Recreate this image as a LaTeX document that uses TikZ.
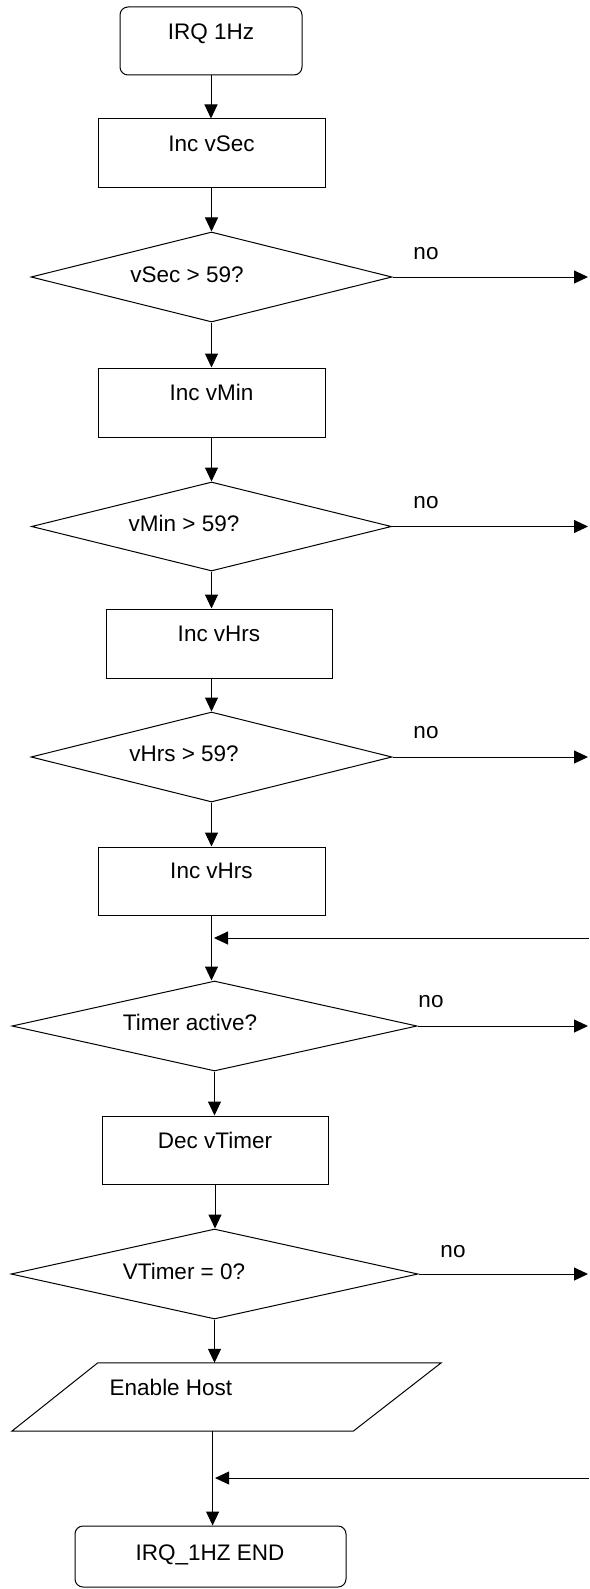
\documentclass[tikz,border=0pt]{standalone}
\usepackage{fontspec}
\setmainfont{Liberation Sans}
\usetikzlibrary{shapes.geometric,arrows.meta,calc}
\begin{document}
\begin{tikzpicture}[x=1pt,y=1pt,
  shapebox/.style={draw=black, line width=1pt, inner sep=0pt},
  rbox/.style={shapebox, rounded corners=8pt},
  decbox/.style={shapebox, diamond},
  txt/.style={anchor=base, inner sep=0pt, font=\fontsize{22.5}{27}\selectfont},
  flow/.style={line width=1pt, -{Triangle[length=14pt,width=13pt]}},
  backflow/.style={flow, shorten >=-2.5pt},
  plain/.style={line width=1pt}]
\useasboundingbox (0,0) rectangle (589,-1589);
% shapes
\node[rbox, minimum width=182pt, minimum height=68pt] (irq) at (211,-41) {};
\node[shapebox, minimum width=227pt, minimum height=69pt] (incsec) at (211.5,-153.5) {};
\node[decbox, minimum width=361pt, minimum height=90pt] (d1) at (211.5,-277) {};
\node[shapebox, minimum width=227pt, minimum height=69pt] (incmin) at (211.5,-402.5) {};
\node[decbox, minimum width=360pt, minimum height=89pt] (d2) at (211.5,-526.5) {};
\node[shapebox, minimum width=226pt, minimum height=69pt] (inchrs) at (219,-643.5) {};
\node[decbox, minimum width=361pt, minimum height=90pt] (d3) at (211.5,-757) {};
\node[shapebox, minimum width=227pt, minimum height=68pt] (inchrsb) at (211.5,-881) {};
\node[decbox, minimum width=405pt, minimum height=90pt] (d4) at (214.5,-1026) {};
\node[shapebox, minimum width=226pt, minimum height=68pt] (dectimer) at (215,-1150) {};
\node[decbox, minimum width=407pt, minimum height=90pt] (d5) at (214.5,-1274) {};
\node[inner sep=0pt, minimum width=429pt, minimum height=68pt] (eh) at (226.5,-1397) {};
\draw[plain] (eh.south west) -- ($(eh.south east)+(-88,0)$) -- (eh.north east) -- ($(eh.north west)+(86,0)$) -- cycle;
\node[rbox, minimum width=271pt, minimum height=61pt] (endb) at (210.5,-1556.5) {};
% texts
\node[txt] (tirq) at (211,-40) {IRQ 1Hz};
\node[txt] (tincsec) at (211.5,-152) {Inc vSec};
\node[txt] (td1) at (187,-282) {vSec > 59?};
\node[txt] (tincmin) at (211.5,-400.7) {Inc vMin};
\node[txt] (td2) at (184,-531) {vMin > 59?};
\node[txt] (tinchrs) at (219,-641) {Inc vHrs};
\node[txt] (td3) at (184,-761) {vHrs > 59?};
\node[txt] (tinchrsb) at (211.5,-878.7) {Inc vHrs};
\node[txt] (td4) at (190,-1030) {Timer active?};
\node[txt] (tdec) at (215,-1148) {Dec vTimer};
\node[txt] (td5) at (184,-1279) {VTimer = 0?};
\node[txt] (teh) at (171,-1395) {Enable Host};
\node[txt] (tend) at (210,-1560) {IRQ\_1HZ END};
\node[txt] (no1) at (426,-259.8) {no};
\node[txt] (no2) at (426,-508.8) {no};
\node[txt] (no3) at (426,-738.8) {no};
\node[txt] (no4) at (431,-1007.8) {no};
\node[txt] (no5) at (453,-1257.8) {no};
% free ends
\coordinate (n1) at (588,-277);
\coordinate (n2) at (588,-526.5);
\coordinate (n3) at (588,-757);
\coordinate (n4) at (588,-1026);
\coordinate (n5) at (588,-1274);
\coordinate (r1) at (589,-938);
\coordinate (r2) at (589,-1478);
\coordinate (ehb) at (212.6,-1431);
% connectors
\draw[flow] (irq.south) -- (irq.south |- incsec.north);
\draw[flow] (incsec.south) -- (incsec.south |- d1.north);
\draw[flow] (d1.south) -- (d1.south |- incmin.north);
\draw[flow] (incmin.south) -- (incmin.south |- d2.north);
\draw[flow] (d2.south) -- (d2.south |- inchrs.north);
\draw[flow] (d3.north |- inchrs.south) -- (d3.north);
\draw[flow] (d3.south) -- (d3.south |- inchrsb.north);
\draw[flow] (inchrsb.south) -- (inchrsb.south |- d4.north);
\draw[flow, shorten >=2.5pt] (r1) -- (r1 -| inchrsb.south);
\draw[flow] (d4.south) -- (d4.south |- dectimer.north);
\draw[flow] (dectimer.south) -- (dectimer.south |- d5.north);
\draw[flow] (d5.south) -- (d5.south |- eh.north);
\draw[flow] (ehb) -- (ehb |- endb.north);
\draw[flow, shorten >=2.5pt] (r2) -- (r2 -| ehb);
\draw[flow] (d1.east) -- (n1);
\draw[flow] (d2.east) -- (n2);
\draw[flow] (d3.east) -- (n3);
\draw[flow] (d4.east) -- (n4);
\draw[flow] (d5.east) -- (n5);
\end{tikzpicture}
\end{document}
